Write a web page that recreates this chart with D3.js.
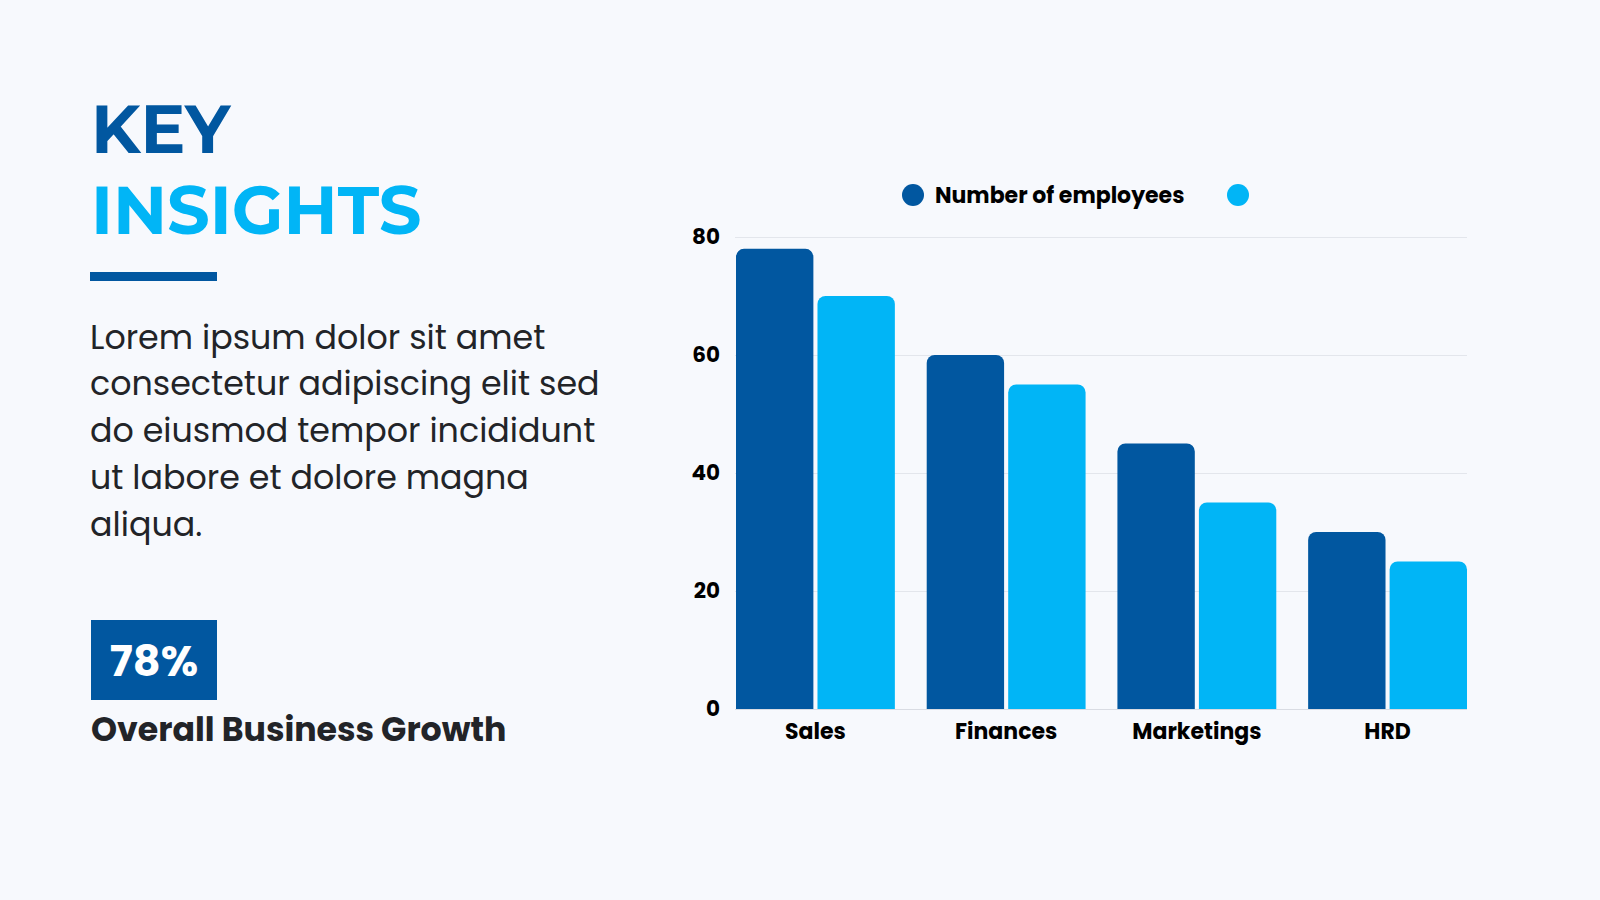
<!DOCTYPE html>
<html>
<head>
<meta charset="utf-8">
<script src="https://cdn.jsdelivr.net/npm/d3@7"></script>
<style>
  html, body { margin: 0; padding: 0; background: #f7f9fd; }
  svg { display: block; }
  text { font-family: "Poppins", "Inter", "Noto Sans", sans-serif; }
</style>
</head>
<body>
<svg id="chart" width="1600" height="900"></svg>
<script>
// chart data
const departments = ["Sales", "Finances", "Marketings", "HRD"];
const seriesNames = ["Number of employees", ""];
const employeesA = [78, 60, 45, 30];
const employeesB = [70, 55, 35, 25];
const yTicks = [0, 20, 40, 60, 80];

// side panel text
const titleLines = ["KEY", "INSIGHTS"];
const bodyLines = [
    "Lorem ipsum dolor sit amet",
    "consectetur adipiscing elit sed",
    "do eiusmod tempor incididunt",
    "ut labore et dolore magna",
    "aliqua."
];
const statValue = "78%";
const statLabel = "Overall Business Growth";

const darkBlue = "#0157a0";
const lightBlue = "#01b5f6";
const textColor = "#222428";

const svg = d3.select("#chart");

// --- left panel
svg.append("text")
    .attr("x", 91).attr("y", 153)
    .attr("fill", darkBlue)
    .style("font-family", "Montserrat, Inter, sans-serif")
    .style("font-weight", 700).style("font-size", "67px")
    .text(titleLines[0]);

svg.append("text")
    .attr("x", 91).attr("y", 234)
    .attr("fill", lightBlue)
    .style("font-family", "Montserrat, Inter, sans-serif")
    .style("font-weight", 700).style("font-size", "67px")
    .text(titleLines[1]);

svg.append("rect")
    .attr("x", 90).attr("y", 272)
    .attr("width", 127).attr("height", 9)
    .attr("fill", darkBlue);

svg.append("g")
    .selectAll("text")
    .data(bodyLines)
    .join("text")
    .attr("x", 90)
    .attr("y", (d, i) => 348.5 + i * 46.8)
    .attr("fill", textColor)
    .style("font-size", "33.3px")
    .style("font-weight", 400)
    .text(d => d);

svg.append("rect")
    .attr("x", 91).attr("y", 620)
    .attr("width", 126).attr("height", 80)
    .attr("fill", darkBlue);

svg.append("text")
    .attr("x", 154).attr("y", 676)
    .attr("text-anchor", "middle")
    .attr("fill", "#ffffff")
    .style("font-size", "43px").style("font-weight", 700)
    .text(statValue);

svg.append("text")
    .attr("x", 91).attr("y", 741)
    .attr("fill", textColor)
    .style("font-size", "33.2px").style("font-weight", 700)
    .text(statLabel);

// --- bar chart
const plot = { left: 736, right: 1467, top: 237, bottom: 709 };

const x0 = d3.scaleBand()
    .domain(departments)
    .range([plot.left, plot.right])
    .paddingInner(0.167)
    .paddingOuter(0);

const barGap = 4;
const x1 = d3.scaleBand()
    .domain([0, 1])
    .range([0, x0.bandwidth()])
    .paddingInner(barGap / (x0.bandwidth() / 2))
    .paddingOuter(0);

const y = d3.scaleLinear()
    .domain([0, 80])
    .range([plot.bottom, plot.top]);

// gridlines
svg.append("g")
    .selectAll("line")
    .data(yTicks)
    .join("line")
    .attr("x1", plot.left - 1)
    .attr("x2", plot.right)
    .attr("y1", d => y(d) + 0.5)
    .attr("y2", d => y(d) + 0.5)
    .attr("stroke", d => d === 0 ? "#d9dce3" : "#e3e6ec")
    .attr("stroke-width", 1);

// y axis labels
const yAxis = svg.append("g")
    .attr("transform", `translate(${plot.left - 16},0)`)
    .call(d3.axisLeft(y).tickValues(yTicks).tickSize(0).tickPadding(0));
yAxis.select(".domain").remove();
yAxis.selectAll("text")
    .attr("fill", "#000")
    .style("font-family", "Poppins, Inter, sans-serif")
    .style("font-size", "21.5px")
    .style("font-weight", 700);

// x axis labels
const xAxis = svg.append("g")
    .attr("transform", `translate(0,${plot.bottom})`)
    .call(d3.axisBottom(x0).tickSize(0).tickPadding(14));
xAxis.select(".domain").remove();
xAxis.selectAll("text")
    .attr("fill", "#000")
    .style("font-family", "Poppins, Inter, sans-serif")
    .style("font-size", "22px")
    .style("font-weight", 700);

// bar with rounded top corners
function topRoundedBar(bx, by, w, h, r) {
    r = Math.min(r, w / 2, h);
    const p = d3.path();
    p.moveTo(bx, by + h);
    p.lineTo(bx, by + r);
    p.arcTo(bx, by, bx + r, by, r);
    p.lineTo(bx + w - r, by);
    p.arcTo(bx + w, by, bx + w, by + r, r);
    p.lineTo(bx + w, by + h);
    p.closePath();
    return p.toString();
}

const rows = departments.map((dep, i) => ({
    dep,
    values: [employeesA[i], employeesB[i]]
}));

const colors = [darkBlue, lightBlue];

svg.append("g")
    .selectAll("g")
    .data(rows)
    .join("g")
    .attr("transform", d => `translate(${x0(d.dep)},0)`)
    .selectAll("path")
    .data(d => d.values.map((v, k) => ({ v, k })))
    .join("path")
    .attr("d", d => topRoundedBar(x1(d.k), y(d.v), x1.bandwidth(), y(0) - y(d.v), 8))
    .attr("fill", d => colors[d.k]);

// legend
const legendPos = [913, 1238];
const legend = svg.append("g")
    .selectAll("g")
    .data(seriesNames)
    .join("g")
    .attr("transform", (d, i) => `translate(${legendPos[i]},195)`);

legend.append("circle")
    .attr("r", 11)
    .attr("fill", (d, i) => colors[i]);

legend.append("text")
    .attr("x", 22)
    .attr("y", 7.5)
    .attr("fill", "#000")
    .style("font-size", "22px")
    .style("font-weight", 700)
    .text(d => d);
</script>
</body>
</html>
